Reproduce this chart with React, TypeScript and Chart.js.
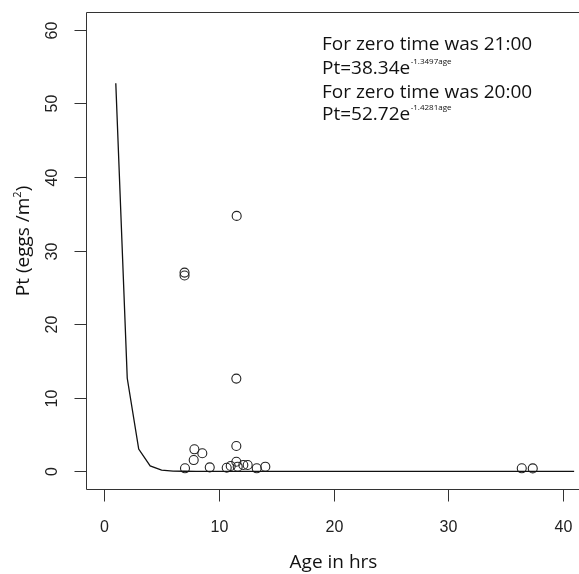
import React, { useEffect, useRef } from "react";
import { Chart, registerables } from "chart.js";

Chart.register(...registerables);

// Observed egg densities (scatter)
const pointAges = [7.0, 7.0, 7.04, 7.8, 7.86, 8.55, 9.2, 10.68, 11.03, 11.55, 11.52, 11.52, 11.52, 11.64, 12.13, 12.51, 13.3, 14.05, 36.43, 37.39];
const pointEggs = [27.0, 26.6, 0.41, 1.53, 2.99, 2.45, 0.54, 0.49, 0.72, 34.7, 12.6, 3.44, 1.3, 0.63, 0.86, 0.86, 0.41, 0.63, 0.41, 0.4];

// Fitted curve as drawn (age in hrs -> Pt)
const curveAges = [1, 2, 3, 4, 5, 6, 7, 8, 9, 10, 11, 12, 13, 14, 15, 16, 17, 18, 19, 20, 21, 22, 23, 24, 25, 26, 27, 28, 29, 30, 31, 32, 33, 34, 35, 36, 37, 38, 39, 40, 41];
const curveEggs = [52.72, 12.64, 3.03, 0.73, 0.17, 0.04, 0.01, 0, 0, 0, 0, 0, 0, 0, 0, 0, 0, 0, 0, 0, 0, 0, 0, 0, 0, 0, 0, 0, 0, 0, 0, 0, 0, 0, 0, 0, 0, 0, 0, 0, 0];

const xTicks = [0, 10, 20, 30, 40];
const yTicks = [0, 10, 20, 30, 40, 50, 60];
const xTitle = "Age in hrs";
const yTitleMain = "Pt (eggs /m";
const yTitleSup = "2";
const yTitleEnd = ")";
const noteLines = ["For zero time was 21:00", "For zero time was 20:00"];
const eqBases = ["Pt=38.34e", "Pt=52.72e"];
const eqExps = ["-1.3497age", "-1.4281age"];

const HUM = '"Open Sans", "Noto Sans", sans-serif';
const AX = '"Liberation Sans", Arial, sans-serif';

const decorPlugin = {
  id: "rdecor",
  afterDraw(chart: any) {
    const ctx = chart.ctx as CanvasRenderingContext2D;
    const { left, right, top, bottom } = chart.chartArea;
    const xs = chart.scales.x;
    const ys = chart.scales.y;
    ctx.save();
    ctx.strokeStyle = "#333";
    ctx.lineWidth = 1;
    const L = Math.round(left) + 0.5;
    const R = Math.round(right) + 0.5;
    const T = Math.round(top) + 0.5;
    const B = Math.round(bottom) + 0.5;
    ctx.beginPath();
    ctx.moveTo(R, T);
    ctx.lineTo(L, T);
    ctx.lineTo(L, B);
    ctx.lineTo(R, B);
    ctx.lineTo(R, T);
    ctx.stroke();

    // x ticks
    ctx.fillStyle = "#222";
    ctx.font = `16px ${AX}`;
    ctx.textAlign = "center";
    ctx.textBaseline = "middle";
    xTicks.forEach((v) => {
      const px = Math.round(xs.getPixelForValue(v)) + 0.5;
      ctx.beginPath();
      ctx.moveTo(px, B);
      ctx.lineTo(px, B + 12);
      ctx.stroke();
      ctx.fillText(String(v), px, B + 38);
    });
    // y ticks
    yTicks.forEach((v) => {
      const py = Math.round(ys.getPixelForValue(v)) + 0.5;
      ctx.beginPath();
      ctx.moveTo(L, py);
      ctx.lineTo(L - 12, py);
      ctx.stroke();
      ctx.save();
      ctx.translate(L - 34, py);
      ctx.rotate(-Math.PI / 2);
      ctx.fillText(String(v), 0, 0);
      ctx.restore();
    });

    // x title
    ctx.fillStyle = "#111";
    ctx.font = `19px ${HUM}`;
    ctx.textAlign = "center";
    ctx.textBaseline = "alphabetic";
    ctx.fillText(xTitle, (left + right) / 2, B + 78);

    // y title (rotated, with superscript)
    ctx.save();
    ctx.translate(29, 241);
    ctx.rotate(-Math.PI / 2);
    ctx.textAlign = "left";
    ctx.font = `19px ${HUM}`;
    const w1 = ctx.measureText(yTitleMain).width;
    ctx.font = `11px ${HUM}`;
    const w2 = ctx.measureText(yTitleSup).width;
    ctx.font = `19px ${HUM}`;
    const w3 = ctx.measureText(yTitleEnd).width;
    let x0 = -(w1 + w2 + w3) / 2;
    ctx.fillText(yTitleMain, x0, 0);
    x0 += w1;
    ctx.font = `11px ${HUM}`;
    ctx.fillText(yTitleSup, x0, -8);
    x0 += w2;
    ctx.font = `19px ${HUM}`;
    ctx.fillText(yTitleEnd, x0, 0);
    ctx.restore();

    // annotation
    const ax = 322;
    const baselines = [50, 74, 98, 120];
    for (let i = 0; i < 2; i++) {
      ctx.font = `19px ${HUM}`;
      ctx.textAlign = "left";
      ctx.fillText(noteLines[i], ax, baselines[i * 2]);
      ctx.fillText(eqBases[i], ax, baselines[i * 2 + 1]);
      const wb = ctx.measureText(eqBases[i]).width;
      ctx.font = `8px ${HUM}`;
      ctx.fillText(eqExps[i], ax + wb + 0.5, baselines[i * 2 + 1] - 10.5);
    }
    ctx.restore();
  },
};

export default function App() {
  const ref = useRef<HTMLCanvasElement | null>(null);
  useEffect(() => {
    if (!ref.current) return;
    const curve = curveAges.map((a, i) => ({ x: a, y: curveEggs[i] }));
    const pts = pointAges.map((a, i) => ({ x: a, y: pointEggs[i] }));
    const chart = new Chart(ref.current, {
      type: "scatter",
      data: {
        datasets: [
          {
            data: curve,
            showLine: true,
            borderColor: "#111",
            borderWidth: 1.3,
            pointRadius: 0,
            tension: 0,
          },
          {
            data: pts,
            showLine: false,
            pointRadius: 4.5,
            pointBorderWidth: 1.1,
            pointBorderColor: "#222",
            pointBackgroundColor: "rgba(0,0,0,0)",
            borderColor: "#222",
            backgroundColor: "rgba(0,0,0,0)",
          },
        ],
      },
      options: {
        responsive: false,
        animation: false,
        devicePixelRatio: 1,
        layout: { padding: { left: 86, top: 12, right: 19, bottom: 85 } },
        plugins: { legend: { display: false }, tooltip: { enabled: false } },
        scales: {
          x: { type: "linear", min: -1.6, max: 41.6, display: false },
          y: { type: "linear", min: -2.4, max: 62.4, display: false },
        },
      },
      plugins: [decorPlugin],
    });
    return () => chart.destroy();
  }, []);
  return (
    <div style={{ position: "absolute", left: 0, top: 0, width: 579, height: 574, overflow: "hidden", background: "#fff" }}>
      <canvas ref={ref} width={600} height={574} style={{ display: "block", width: 600, height: 574 }} />
    </div>
  );
}
